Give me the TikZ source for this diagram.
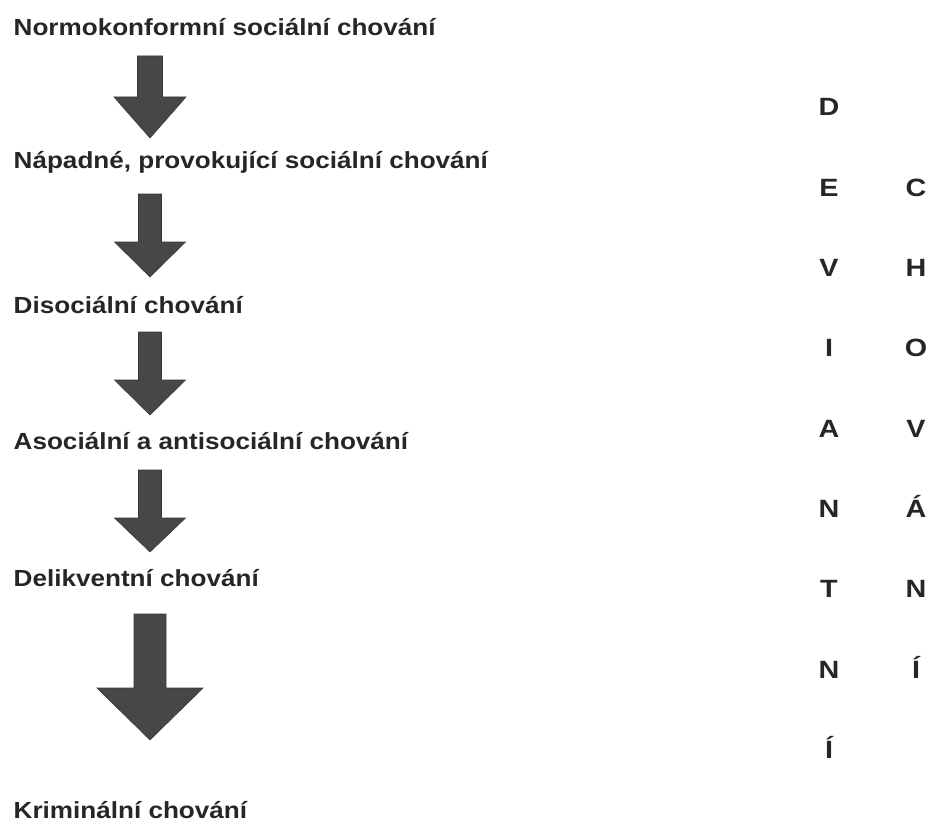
\documentclass[tikz,border=0pt]{standalone}
\usepackage{fontspec}
\newfontfamily\lblfont{Liberation Sans}[FakeStretch=1.12]
\newfontfamily\letfont{Liberation Sans}[FakeStretch=1.15]
\definecolor{txt}{HTML}{262626}
\definecolor{arrfill}{HTML}{474747}
\definecolor{arredge}{HTML}{383838}
\newcommand\flowarrow[6]{%
  \filldraw[arrowshape] (#1-#5,#2) -- (#1+#5,#2) -- (#1+#5,#3) -- (#1+#6,#3)
    -- (#1,#4) -- (#1-#6,#3) -- (#1-#5,#3) -- cycle;}
\tikzset{
  lbl/.style={anchor=base west, inner sep=0pt, text=txt,
    font=\lblfont\bfseries\fontsize{23.3}{28}\selectfont},
  letter/.style={anchor=base, inner sep=0pt, text=txt,
    font=\letfont\bfseries\fontsize{25}{30}\selectfont},
  arrowshape/.style={fill=arrfill, draw=arredge, line width=0.6pt, line join=miter}
}
\begin{document}
\begin{tikzpicture}[x=1pt,y=-1pt]
\useasboundingbox (0,0) rectangle (931,824);
% left column of stages
\node[lbl] (s1) at (13.5,35.5) {Normokonformní sociální chování};
\node[lbl] (s2) at (13.5,168.5) {Nápadné, provokující sociální chování};
\node[lbl] (s3) at (13.5,313) {Disociální chování};
\node[lbl] (s4) at (13.5,449) {Asociální a antisociální chování};
\node[lbl] (s5) at (13.5,586) {Delikventní chování};
\node[lbl] (s6) at (13.5,818) {Kriminální chování};
% arrows
\flowarrow{150}{56}{97}{138}{12.5}{36}
\flowarrow{150}{194}{242}{277}{11.5}{35.5}
\flowarrow{150}{332}{380}{415}{11.5}{35.5}
\flowarrow{150}{470}{518}{552}{11.5}{35.5}
\flowarrow{150}{614}{688}{740}{16}{53}
% vertical words
\foreach \ch [count=\k from 0] in {D,E,V,I,A,N,T,N,Í}
  \node[letter] (d\k) at (829,{116+80.3*\k}) {\ch};
\foreach \ch [count=\k from 1] in {C,H,O,V,Á,N,Í}
  \node[letter] (c\k) at (916,{116+80.3*\k}) {\ch};
\end{tikzpicture}
\end{document}
